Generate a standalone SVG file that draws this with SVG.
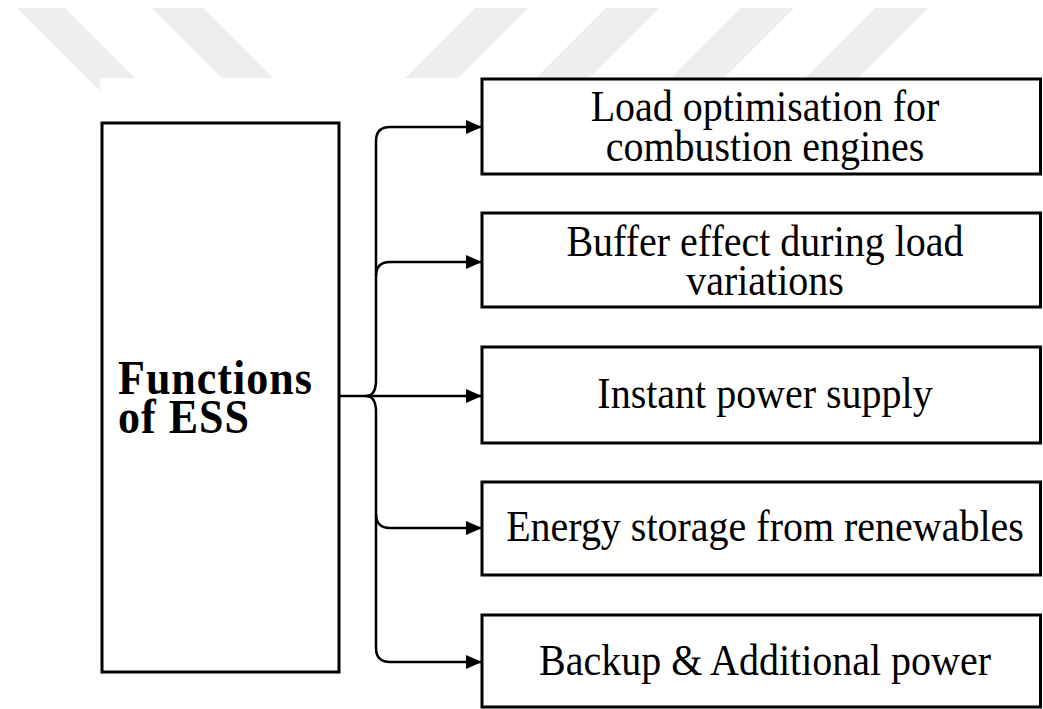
<svg xmlns="http://www.w3.org/2000/svg" width="1043" height="709" viewBox="0 0 1043 709">
  <style>
    .stripe { fill: #eeeeee; }
    .box { fill: #ffffff; stroke: #000000; stroke-width: 3; }
    .label { font-family: "Liberation Serif", "Times New Roman", serif; font-size: 40px; fill: #000000; text-anchor: middle; }
    .title { font-family: "Liberation Serif", "Times New Roman", serif; font-size: 44px; font-weight: bold; letter-spacing: 1px; fill: #000000; }
    .wire { fill: none; stroke: #000000; stroke-width: 2.5; stroke-linejoin: round; }
  </style>
  <defs>
    <marker id="arrow" viewBox="0 0 16 14" refX="16" refY="7" markerWidth="16" markerHeight="14" markerUnits="userSpaceOnUse" orient="auto">
      <path d="M0,0 L16,7 L0,14 Z" fill="#000000"/>
    </marker>
  </defs>

  <rect width="1043" height="709" fill="#ffffff"/>

  <!-- background band of diagonal stripes -->
  <g id="stripes">
    <polygon class="stripe" points="17,8 65,8 155,98 107,98"/>
    <polygon class="stripe" points="152,8 203,8 273,78 222,78"/>
    <polygon class="stripe" points="475,8 528,8 458,78 405,78"/>
    <polygon class="stripe" points="606,8 659,8 589,78 536,78"/>
    <polygon class="stripe" points="741,8 794,8 724,78 671,78"/>
    <polygon class="stripe" points="875,8 928,8 858,78 805,78"/>
    <rect x="100" y="78" width="943" height="631" fill="#ffffff"/>
  </g>

  <!-- connectors: branching bracket from the main box to each function -->
  <g id="connectors">
    <path class="wire" d="M376,141 L376,380 Q376,396 366,396 Q376,396 376,412 L376,648"/>
    <path class="wire" d="M339,396 L482,396" marker-end="url(#arrow)"/>
    <path class="wire" d="M376,141 Q376,127 390,127 L482,127" marker-end="url(#arrow)"/>
    <path class="wire" d="M376,276 Q376,262 390,262 L482,262" marker-end="url(#arrow)"/>
    <path class="wire" d="M376,514 Q376,528 390,528 L482,528" marker-end="url(#arrow)"/>
    <path class="wire" d="M376,648 Q376,662 390,662 L482,662" marker-end="url(#arrow)"/>
  </g>

  <!-- lettering is drawn slightly tall: each line is scaled 1.1 vertically about its baseline -->
  <g id="node-ess">
    <rect class="box" x="102" y="123" width="237" height="549"/>
    <text class="title" transform="translate(118,394) scale(1,1.1)">Functions</text>
    <text class="title" transform="translate(118,433) scale(1,1.1)">of ESS</text>
  </g>

  <g id="node-load-optimisation">
    <rect class="box" x="482" y="79" width="558.5" height="95"/>
    <text class="label" transform="translate(765,121) scale(1,1.1)">Load optimisation for</text>
    <text class="label" transform="translate(765,161) scale(1,1.1)">combustion engines</text>
  </g>

  <g id="node-buffer-effect">
    <rect class="box" x="482" y="213" width="558.5" height="94"/>
    <text class="label" transform="translate(765,256) scale(1,1.1)">Buffer effect during load</text>
    <text class="label" transform="translate(765,295) scale(1,1.1)">variations</text>
  </g>

  <g id="node-instant-power">
    <rect class="box" x="482" y="347" width="558.5" height="96"/>
    <text class="label" transform="translate(765,408) scale(1,1.1)">Instant power supply</text>
  </g>

  <g id="node-energy-storage">
    <rect class="box" x="482" y="482" width="558.5" height="93"/>
    <text class="label" transform="translate(765,541) scale(1,1.1)">Energy storage from renewables</text>
  </g>

  <g id="node-backup">
    <rect class="box" x="482" y="615" width="558.5" height="92"/>
    <text class="label" transform="translate(765,675) scale(1,1.1)">Backup &amp; Additional power</text>
  </g>
</svg>
